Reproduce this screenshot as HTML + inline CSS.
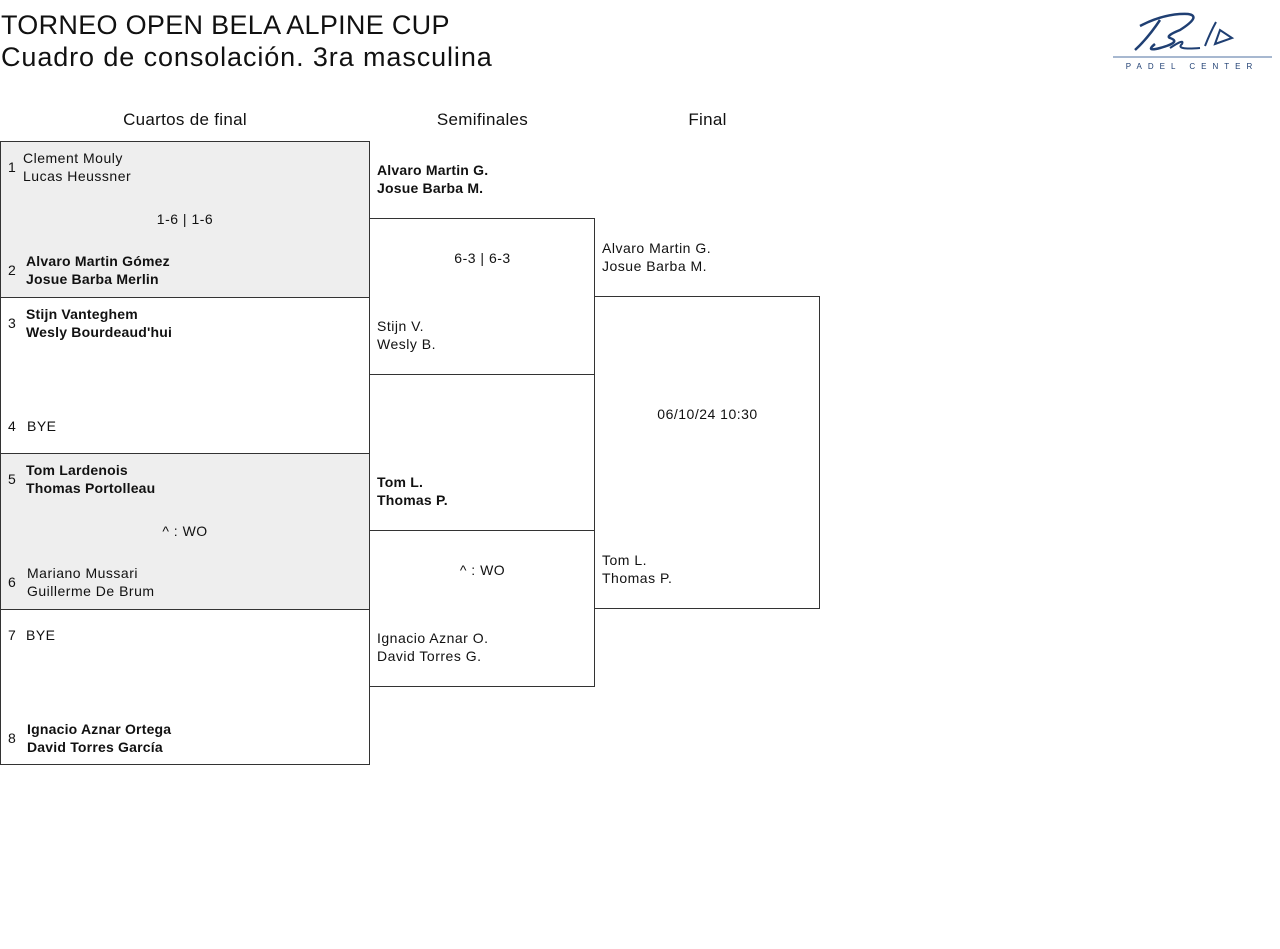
<!DOCTYPE html>
<html><head><meta charset="utf-8"><style>
body{margin:0;width:1280px;height:949px;background:#fff;font-family:"Liberation Sans",sans-serif;color:#111;position:relative;overflow:hidden}
div{position:absolute}
.t{font-size:14px;line-height:18px;white-space:nowrap;letter-spacing:0.5px}
.b{font-weight:bold;letter-spacing:0.2px}
.box{border:1px solid #333;box-sizing:border-box}
.g{background:#eee}
.h{font-size:17px;line-height:20px;text-align:center;letter-spacing:0.3px}
</style></head><body>
<div style="left:1px;top:9px;font-size:27px;line-height:32px;letter-spacing:0.3px">TORNEO OPEN BELA ALPINE CUP</div>
<div style="left:1px;top:41px;font-size:27px;line-height:32px;letter-spacing:0.9px">Cuadro de consolación. 3ra masculina</div>
<svg style="position:absolute;left:1110px;top:8px" width="165" height="65" viewBox="0 0 165 65">
<path d="M30 18 Q55 5 78 6 Q92 8 70 22 Q55 28 60 30 Q72 34 50 40 Q35 44 45 36 M50 12 Q38 30 25 42" stroke="#1f3f73" stroke-width="2.5" fill="none"/>
<path d="M60 40 Q75 30 72 36 Q65 42 90 40 M95 38 Q100 25 106 14 M105 36 L122 30 L110 22 Z" stroke="#1f3f73" stroke-width="2" fill="none"/>
<line x1="3" y1="49" x2="162" y2="49" stroke="#8aa0c0" stroke-width="1.5"/>
<text x="82" y="61" font-size="8" fill="#1f3f73" text-anchor="middle" letter-spacing="6" font-family="Liberation Sans">PADEL CENTER</text>
</svg>
<div class="h" style="left:0;width:370px;top:110px">Cuartos de final</div>
<div class="h" style="left:370px;width:225px;top:110px">Semifinales</div>
<div class="h" style="left:595px;width:225px;top:110px">Final</div>

<div class="box g" style="left:0;top:141px;width:370px;height:157px"></div>
<div class="box" style="left:0;top:297px;width:370px;height:157px"></div>
<div class="box g" style="left:0;top:453px;width:370px;height:157px"></div>
<div class="box" style="left:0;top:609px;width:370px;height:156px"></div>
<div class="box" style="left:369px;top:218px;width:226px;height:157px"></div>
<div class="box" style="left:369px;top:530px;width:226px;height:157px"></div>
<div class="box" style="left:594px;top:296px;width:226px;height:313px"></div>

<div class="t" style="left:8px;top:158px">1</div>
<div class="t" style="left:23px;top:149px">Clement Mouly<br>Lucas Heussner</div>
<div class="t" style="left:0;width:370px;text-align:center;top:210px">1-6 | 1-6</div>
<div class="t" style="left:8px;top:261px">2</div>
<div class="t b" style="left:26px;top:252px">Alvaro Martin Gómez<br>Josue Barba Merlin</div>
<div class="t" style="left:8px;top:314px">3</div>
<div class="t b" style="left:26px;top:305px">Stijn Vanteghem<br>Wesly Bourdeaud'hui</div>
<div class="t" style="left:8px;top:417px">4</div>
<div class="t" style="left:27px;top:417px">BYE</div>
<div class="t" style="left:8px;top:470px">5</div>
<div class="t b" style="left:26px;top:461px">Tom Lardenois<br>Thomas Portolleau</div>
<div class="t" style="left:0;width:370px;text-align:center;top:522px">^ : WO</div>
<div class="t" style="left:8px;top:573px">6</div>
<div class="t" style="left:27px;top:564px">Mariano Mussari<br>Guillerme De Brum</div>
<div class="t" style="left:8px;top:626px">7</div>
<div class="t" style="left:26px;top:626px">BYE</div>
<div class="t" style="left:8px;top:729px">8</div>
<div class="t b" style="left:27px;top:720px">Ignacio Aznar Ortega<br>David Torres García</div>

<div class="t b" style="left:377px;top:161px">Alvaro Martin G.<br>Josue Barba M.</div>
<div class="t" style="left:370px;width:225px;text-align:center;top:249px">6-3 | 6-3</div>
<div class="t" style="left:377px;top:317px">Stijn V.<br>Wesly B.</div>
<div class="t b" style="left:377px;top:473px">Tom L.<br>Thomas P.</div>
<div class="t" style="left:370px;width:225px;text-align:center;top:561px">^ : WO</div>
<div class="t" style="left:377px;top:629px">Ignacio Aznar O.<br>David Torres G.</div>

<div class="t" style="left:602px;top:239px">Alvaro Martin G.<br>Josue Barba M.</div>
<div class="t" style="left:595px;width:225px;text-align:center;top:405px">06/10/24 10:30</div>
<div class="t" style="left:602px;top:551px">Tom L.<br>Thomas P.</div>
</body></html>
